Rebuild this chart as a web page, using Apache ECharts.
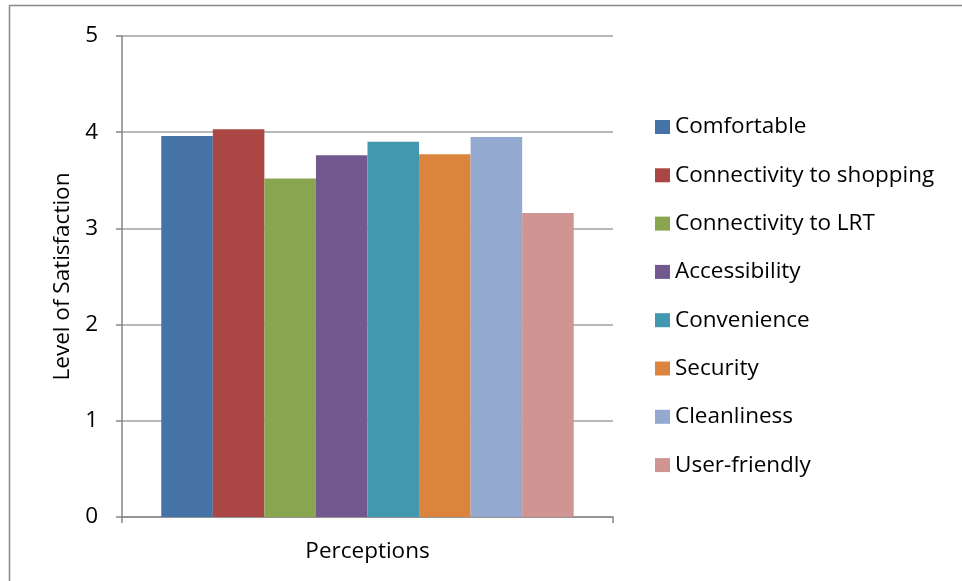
<!DOCTYPE html>
<html>
<head>
<meta charset="utf-8">
<script src="https://cdn.jsdelivr.net/npm/echarts@6/dist/echarts.min.js"></script>
<style>html,body{margin:0;padding:0;background:#fff}#c{width:962px;height:581px}</style>
</head>
<body>
<div id="c"></div>
<script>
const seriesNames = ['Comfortable','Connectivity to shopping','Connectivity to LRT','Accessibility','Convenience','Security','Cleanliness','User-friendly'];
const seriesValues = [3.96, 4.03, 3.52, 3.76, 3.90, 3.77, 3.95, 3.16];
const seriesColors = ['#4572A7','#AA4643','#89A54E','#71588F','#4198AF','#DB843D','#93A9CF','#D09493'];
const categories = [''];
const yTicks = [0,1,2,3,4,5];

const FONT = 'Open Sans';
const FS = 22.5;
const chart = echarts.init(document.getElementById('c'));
chart.setOption({
  animation: false,
  textStyle: {fontFamily: FONT},
  graphic: [{type:'rect', shape:{x:9.5,y:5.5,width:1200,height:1200}, style:{fill:'none', stroke:'#898989', lineWidth:1.5}, silent:true}],
  grid: {left:122, right:349, top:36, bottom:64},
  legend: {
    orient:'vertical', left:650, top:110,
    icon:'rect', itemWidth:15, itemHeight:14, itemGap:24.3,
    textStyle:{fontFamily:FONT, fontSize:FS, color:'#000', lineHeight:24},
    data: seriesNames
  },
  xAxis: {
    type:'category', data: categories,
    name:'Perceptions', nameLocation:'middle', nameGap:23,
    nameTextStyle:{fontFamily:FONT, fontSize:FS, color:'#000'},
    axisLine:{lineStyle:{color:'#868686', width:1.5}},
    axisTick:{show:true, length:6, lineStyle:{color:'#868686', width:1.5}},
    axisLabel:{show:false},
    splitLine:{show:false}
  },
  yAxis: {
    type:'value', min:yTicks[0], max:yTicks[yTicks.length-1], interval:1,
    name:'Level of Satisfaction', nameLocation:'middle', nameGap:48, nameRotate:90,
    nameTextStyle:{fontFamily:FONT, fontSize:FS, color:'#000'},
    axisLine:{show:true, lineStyle:{color:'#868686', width:1.5}},
    axisTick:{show:true, length:6, lineStyle:{color:'#868686', width:1.5}},
    axisLabel:{fontFamily:FONT, fontSize:FS, color:'#000', margin:24},
    splitLine:{show:true, lineStyle:{color:'#a0a0a0', width:1.5}}
  },
  series: seriesNames.map((n,i)=>({
    name:n, type:'bar', data:[seriesValues[i]],
    itemStyle:{color:seriesColors[i]},
    barGap:'0%', barCategoryGap:'16%'
  }))
});
</script>
</body>
</html>
